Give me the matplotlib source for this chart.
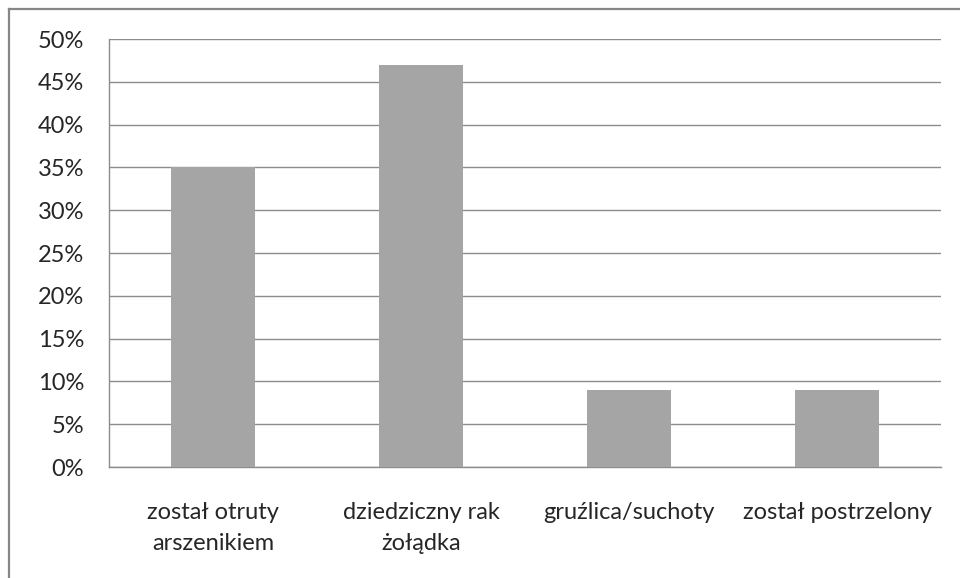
import matplotlib.pyplot as plt
from matplotlib.lines import Line2D

categories = ['został otruty\narszenikiem', 'dziedziczny rak\nżołądka',
              'gruźlica/suchoty', 'został postrzelony']
values = [35, 47, 9, 9]
yticks = [0, 5, 10, 15, 20, 25, 30, 35, 40, 45, 50]

plt.rcParams['font.family'] = ['Lato', 'DejaVu Sans']

fig = plt.figure(figsize=(9.6, 5.78), dpi=100)
ax = fig.add_axes([109 / 960, 1 - 467 / 578, 832 / 960, 428 / 578])

x = range(len(categories))
ax.bar(x, values, width=0.4, color='#a5a5a5', zorder=3)

ax.set_xlim(-0.5, len(categories) - 0.5)
ax.set_ylim(0, 50)
ax.set_yticks(yticks)
ax.set_yticklabels([f'{v}%' for v in yticks], fontsize=17, color='#262626')
ax.set_xticks(list(x))
ax.set_xticklabels(categories, fontsize=17, color='#262626', linespacing=1.6)
ax.tick_params(axis='both', length=0)
ax.tick_params(axis='y', pad=18)
ax.tick_params(axis='x', pad=25)

ax.yaxis.grid(True, color='#8c8c8c', linewidth=1, zorder=0)
for s in ['top', 'right']:
    ax.spines[s].set_visible(False)
for s in ['left', 'bottom']:
    ax.spines[s].set_color('#8c8c8c')
    ax.spines[s].set_linewidth(1)

# chart border (only top and left edges visible)
fig.add_artist(Line2D([9 / 960, 1], [1 - 9 / 578, 1 - 9 / 578],
                      transform=fig.transFigure, color='#868686', linewidth=1.6))
fig.add_artist(Line2D([9 / 960, 9 / 960], [0, 1 - 9 / 578],
                      transform=fig.transFigure, color='#868686', linewidth=1.6))

fig.savefig('out.png', dpi=100)
